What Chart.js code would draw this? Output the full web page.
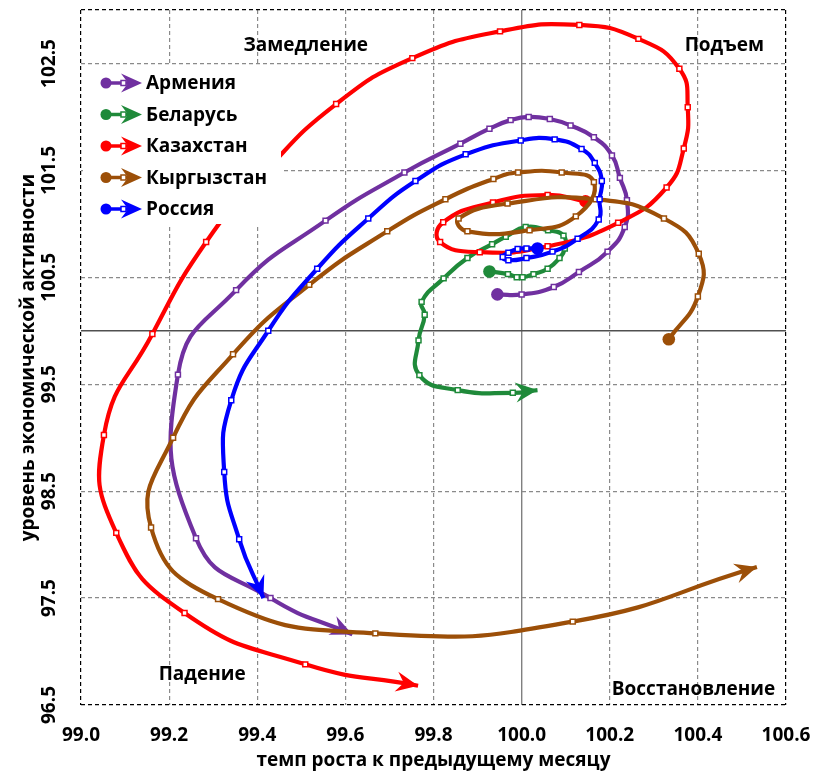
<!DOCTYPE html>
<html lang="ru">
<head>
<meta charset="UTF-8">
<title>Фазовая диаграмма деловой активности</title>
<script src="https://cdn.jsdelivr.net/npm/chart.js"></script>
<style>
  body { margin: 0; background: #fff; }
  #chart { display: block; }
</style>
</head>
<body>
<canvas id="chart" width="817" height="771"></canvas>
<script>
// series names and colours (legend order)
const seriesNames = ['Армения', 'Беларусь', 'Казахстан', 'Кыргызстан', 'Россия'];
const seriesColors = ['#7030A0', '#1F8A3A', '#FF0000', '#9C4F08', '#0000FF'];

// x = темп роста к предыдущему месяцу, y = уровень экономической активности
const armeniaX = [99.945, 100.00, 100.073, 100.13, 100.195, 100.234, 100.239, 100.223, 100.205, 100.164, 100.111, 100.064, 100.016, 99.975, 99.927, 99.861, 99.734, 99.555, 99.352, 99.22, 99.261, 99.43, 99.616];
const armeniaY = [100.34, 100.34, 100.41, 100.55, 100.74, 100.97, 101.22, 101.43, 101.64, 101.81, 101.92, 101.98, 102.00, 101.97, 101.89, 101.75, 101.48, 101.03, 100.38, 99.59, 98.06, 97.50, 97.16];

const belarusX = [99.927, 99.969, 99.989, 100.002, 100.027, 100.059, 100.086, 100.098, 100.095, 100.060, 100.009, 99.964, 99.933, 99.877, 99.823, 99.773, 99.780, 99.766, 99.768, 99.855, 99.980, 100.036];
const belarusY = [100.555, 100.53, 100.50, 100.50, 100.53, 100.58, 100.68, 100.77, 100.89, 100.94, 100.97, 100.88, 100.81, 100.68, 100.49, 100.27, 100.15, 99.91, 99.585, 99.445, 99.42, 99.445];

const kazakhstanX = [100.145, 100.059, 99.935, 99.822, 99.815, 99.905, 100.059, 100.219, 100.329, 100.368, 100.377, 100.358, 100.265, 100.131, 99.951, 99.752, 99.579, 99.414, 99.284, 99.162, 99.052, 99.080, 99.235, 99.509, 99.765];
const kazakhstanY = [101.21, 101.27, 101.20, 101.015, 100.83, 100.735, 100.79, 101.01, 101.34, 101.705, 102.09, 102.45, 102.73, 102.86, 102.80, 102.55, 102.12, 101.47, 100.83, 99.97, 99.025, 98.11, 97.36, 96.88, 96.68];

const kyrgyzX = [100.334, 100.40, 100.402, 100.323, 100.168, 99.968, 99.857, 99.877, 100.018, 100.123, 100.164, 100.091, 99.992, 99.936, 99.827, 99.695, 99.518, 99.345, 99.209, 99.159, 99.311, 99.668, 100.116, 100.534];
const kyrgyzY = [99.92, 100.32, 100.72, 101.05, 101.23, 101.19, 101.05, 100.93, 100.94, 101.07, 101.39, 101.48, 101.48, 101.42, 101.23, 100.93, 100.43, 99.78, 99.00, 98.16, 97.49, 97.17, 97.28, 97.79];

const russiaX = [100.036, 100.011, 99.991, 99.970, 99.957, 99.970, 100.011, 100.070, 100.127, 100.175, 100.177, 100.182, 100.166, 100.136, 100.075, 99.998, 99.873, 99.759, 99.652, 99.536, 99.425, 99.341, 99.325, 99.359, 99.414];
const russiaY = [100.77, 100.77, 100.765, 100.73, 100.69, 100.66, 100.68, 100.74, 100.86, 101.04, 101.23, 101.40, 101.57, 101.70, 101.79, 101.78, 101.65, 101.40, 101.05, 100.58, 100.00, 99.35, 98.68, 98.05, 97.50];

// axes
const yTickLabels = [96.5, 97.5, 98.5, 99.5, 100.5, 101.5, 102.5];
const xMin = 99.0, xMax = 100.6, yMin = 96.5, yMax = 103.0;

// quadrant captions and where they sit (data units)
const quadrantNames = ['Замедление', 'Подъем', 'Падение', 'Восстановление'];
const quadrantX = [99.51, 100.46, 99.275, 100.39];
const quadrantY = [102.67, 102.67, 96.78, 96.64];

const FONT = '"Open Sans", sans-serif';
Chart.defaults.font.family = FONT;
Chart.defaults.color = '#000';

const near = (a, b) => Math.abs(a - b) < 1e-6;

function makeSeries(i, xs, ys, order) {
  const n = xs.length;
  const c = seriesColors[i];
  return {
    label: seriesNames[i],
    data: xs.map((x, k) => ({ x: x, y: ys[k] })),
    showLine: true,
    order: order,
    borderColor: c,
    backgroundColor: c,
    borderWidth: 4.2,
    tension: 0.5,
    borderJoinStyle: 'round',
    pointStyle: ctx => ctx.dataIndex === 0 ? 'circle' : 'rect',
    pointRadius: ctx => ctx.dataIndex === 0 ? 6.3 : (ctx.dataIndex === n - 1 ? 0 : 3.5),
    pointBackgroundColor: ctx => ctx.dataIndex === 0 ? c : '#fff',
    pointBorderColor: c,
    pointBorderWidth: ctx => ctx.dataIndex === 0 ? 0 : 1.5
  };
}

function arrowHead(ctx, tx, ty, dx, dy, len, half, color) {
  const l = Math.hypot(dx, dy) || 1;
  const ux = dx / l, uy = dy / l;
  const px = -uy, py = ux;
  const bx = tx - ux * len, by = ty - uy * len;
  const nx = tx - ux * len * 0.66, ny = ty - uy * len * 0.66;
  ctx.beginPath();
  ctx.moveTo(tx, ty);
  ctx.lineTo(bx + px * half, by + py * half);
  ctx.lineTo(nx, ny);
  ctx.lineTo(bx - px * half, by - py * half);
  ctx.closePath();
  ctx.fillStyle = color;
  ctx.fill();
}

// arrow at the end of each trajectory, drawn with its own dataset
const arrowPlugin = {
  id: 'arrows',
  afterDatasetDraw(chart, args) {
    const pts = args.meta.data;
    const n = pts.length;
    if (n < 2) return;
    const tip = pts[n - 1], prev = pts[n - 2];
    const ctx = chart.ctx;
    ctx.save();
    arrowHead(ctx, tip.x, tip.y, tip.x - prev.x, tip.y - prev.y, 22, 10, seriesColors[args.index]);
    ctx.restore();
  }
};

const captionPlugin = {
  id: 'captions',
  afterDatasetsDraw(chart) {
    const ctx = chart.ctx;
    const xs = chart.scales.x, ys = chart.scales.y;
    ctx.save();
    ctx.font = 'bold 19px ' + FONT;
    ctx.fillStyle = '#000';
    ctx.textAlign = 'center';
    ctx.textBaseline = 'middle';
    quadrantNames.forEach((t, i) => {
      ctx.fillText(t, xs.getPixelForValue(quadrantX[i]), ys.getPixelForValue(quadrantY[i]));
    });
    ctx.restore();
  }
};

const legendPlugin = {
  id: 'boxLegend',
  afterDraw(chart) {
    const ctx = chart.ctx;
    ctx.save();
    ctx.fillStyle = '#fff';
    ctx.fillRect(83, 66, 198, 158);
    ctx.font = 'bold 19px ' + FONT;
    ctx.textAlign = 'left';
    ctx.textBaseline = 'middle';
    seriesNames.forEach((name, i) => {
      const y = 83 + i * 31.5;
      const c = seriesColors[i];
      ctx.strokeStyle = c;
      ctx.lineWidth = 3.5;
      ctx.beginPath();
      ctx.moveTo(106, y);
      ctx.lineTo(130, y);
      ctx.stroke();
      ctx.beginPath();
      ctx.arc(106, y, 5.5, 0, Math.PI * 2);
      ctx.fillStyle = c;
      ctx.fill();
      arrowHead(ctx, 142, y, 1, 0, 21, 9.5, c);
      ctx.fillStyle = '#fff';
      ctx.lineWidth = 1.5;
      ctx.fillRect(121, y - 2.5, 5, 5);
      ctx.strokeRect(121, y - 2.5, 5, 5);
      ctx.fillStyle = '#000';
      ctx.fillText(name, 146, y + 1);
    });
    ctx.restore();
  }
};

function noPad(s) {
  s.paddingLeft = 0;
  s.paddingRight = 0;
  s.paddingTop = 0;
  s.paddingBottom = 0;
}

new Chart(document.getElementById('chart'), {
  type: 'scatter',
  data: {
    datasets: [
      makeSeries(0, armeniaX, armeniaY, 4),
      makeSeries(1, belarusX, belarusY, 3),
      makeSeries(2, kazakhstanX, kazakhstanY, 2),
      makeSeries(3, kyrgyzX, kyrgyzY, 1),
      makeSeries(4, russiaX, russiaY, 0)
    ]
  },
  options: {
    responsive: false,
    animation: false,
    events: [],
    layout: { padding: { left: 0, top: 10, right: 31, bottom: 0 } },
    plugins: { legend: { display: false }, tooltip: { enabled: false } },
    scales: {
      x: {
        type: 'linear',
        min: xMin,
        max: xMax,
        afterFit: s => { s.height = 66; noPad(s); },
        ticks: {
          stepSize: 0.2,
          padding: 19,
          font: { size: 19, weight: 'bold', lineHeight: 1.2 },
          callback: v => Number(v).toFixed(1)
        },
        grid: {
          drawTicks: false,
          color: ctx => {
            const v = ctx.tick.value;
            if (near(v, xMin) || near(v, xMax)) return '#000';
            if (near(v, 100)) return '#808080';
            return '#8a8a8a';
          },
          lineWidth: ctx => near(ctx.tick.value, 100) ? 1.4 : 1.2
        },
        border: {
          display: false,
          dash: ctx => near(ctx.tick.value, 100) ? [] : [4, 3]
        },
        title: {
          display: true,
          text: 'темп роста к предыдущему месяцу',
          font: { size: 19, weight: 'bold', lineHeight: 1 },
          padding: { top: 0, bottom: 1 }
        }
      },
      y: {
        type: 'linear',
        min: yMin,
        max: yMax,
        afterFit: s => { s.width = 81; noPad(s); },
        afterBuildTicks: s => {
          s.ticks = yTickLabels.concat([100, yMax]).sort((a, b) => a - b).map(v => ({ value: v }));
        },
        ticks: {
          minRotation: 90,
          maxRotation: 90,
          crossAlign: 'center',
          padding: 7,
          font: { size: 19, weight: 'bold' },
          callback: v => yTickLabels.some(t => near(t, v)) ? Number(v).toFixed(1) : ''
        },
        grid: {
          drawTicks: false,
          color: ctx => {
            const v = ctx.tick.value;
            if (near(v, yMin) || near(v, yMax)) return '#000';
            if (near(v, 100)) return '#505050';
            return '#8a8a8a';
          },
          lineWidth: ctx => near(ctx.tick.value, 100) ? 1.4 : 1.2
        },
        border: {
          display: false,
          dash: ctx => near(ctx.tick.value, 100) ? [] : [4, 3]
        },
        title: {
          display: true,
          text: 'уровень экономической активности',
          font: { size: 19, weight: 'bold', lineHeight: 1 },
          padding: { top: 19, bottom: 0 }
        }
      }
    }
  },
  plugins: [arrowPlugin, captionPlugin, legendPlugin]
});
</script>
</body>
</html>
